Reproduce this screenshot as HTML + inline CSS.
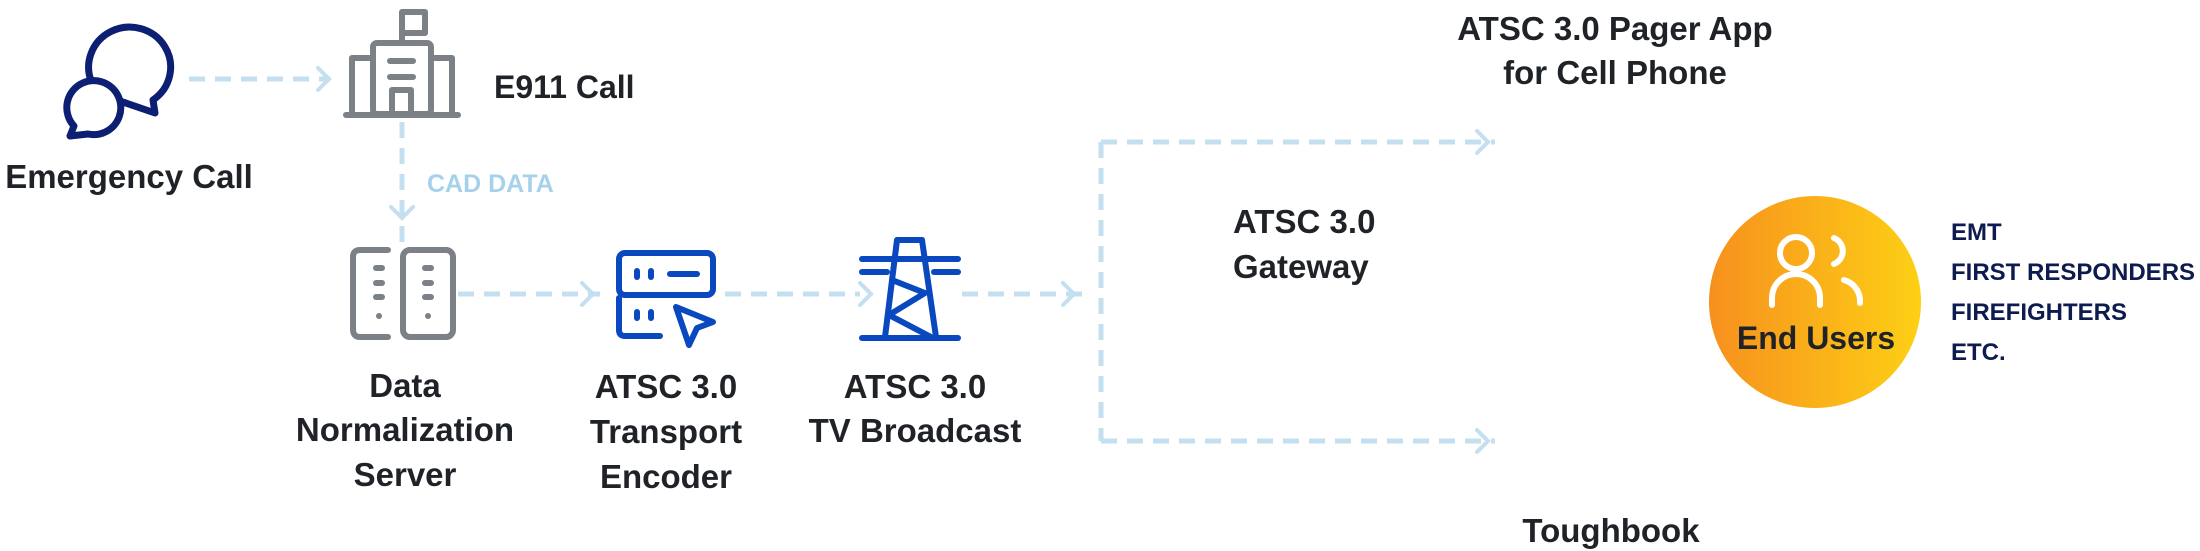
<!DOCTYPE html>
<html><head><meta charset="utf-8"><style>
html,body{margin:0;padding:0;background:#fff}
svg{display:block}
text{font-family:"Liberation Sans",sans-serif;font-weight:bold}
</style></head><body>
<svg width="2200" height="551" viewBox="0 0 2200 551" xmlns="http://www.w3.org/2000/svg">
<defs>
<linearGradient id="g" x1="0" y1="0" x2="1" y2="0">
<stop offset="0" stop-color="#f7901e"/><stop offset="1" stop-color="#fdd015"/>
</linearGradient>
</defs>
<g stroke="#c3dff0" stroke-width="5" fill="none" stroke-dasharray="16 10">
<line x1="189" y1="79" x2="330" y2="79"/>
<line x1="402" y1="122" x2="402" y2="243"/>
<line x1="458" y1="294" x2="600" y2="294"/>
<line x1="725" y1="294" x2="860" y2="294"/>
<line x1="962" y1="294" x2="1085" y2="294"/>
<line x1="1101" y1="142" x2="1101" y2="441"/>
<line x1="1101" y1="142" x2="1495" y2="142"/>
<line x1="1101" y1="441" x2="1495" y2="441"/>
</g>
<g stroke="#c3dff0" stroke-width="4" fill="none" stroke-linecap="round">
<polyline points="318,68 329,79 318,90"/>
<polyline points="391,207 402,218 413,207"/>
<polyline points="582,283 593,294 582,305"/>
<polyline points="860,283 871,294 860,305"/>
<polyline points="1063,283 1074,294 1063,305"/>
<polyline points="1477,131 1488,142 1477,153"/>
<polyline points="1477,430 1488,441 1477,452"/>
</g>
<g stroke="#0c1f73" stroke-width="7" fill="none" stroke-linejoin="round">
<path d="M92,83 A41,40 0 1 1 153,100 L155,113 L120,101"/>
<path d="M74,126 A27,27 0 1 1 88,134 L70,136 Z"/>
</g>
<text x="129" y="188" font-size="33" fill="#1f2328" text-anchor="middle">Emergency Call</text>
<g stroke="#7b8187" stroke-width="6" fill="none" stroke-linecap="round" stroke-linejoin="round">
<path d="M402,42 V12 H425 V33 H402"/>
<rect x="373" y="43" width="58" height="71" rx="4"/>
<path d="M373,58 H352 V114 M431,58 H452 V114"/>
<line x1="346" y1="115" x2="458" y2="115"/>
<line x1="390" y1="61" x2="413" y2="61"/>
<line x1="390" y1="77" x2="413" y2="77"/>
<path d="M392,112 V90 H411 V112"/>
</g>
<text x="494" y="98" font-size="32" fill="#1f2328">E911 Call</text>
<text x="427" y="192" font-size="25" fill="#a5d2ea">CAD DATA</text>
<g stroke="#7b8187" stroke-width="6" fill="none" stroke-linecap="round">
<path d="M388,250 H360 Q353,250 353,257 V329 Q353,337 360,337 H388"/>
<rect x="403" y="250" width="50" height="87" rx="7"/>
<line x1="376" y1="268" x2="382" y2="268"/><line x1="376" y1="283" x2="382" y2="283"/><line x1="376" y1="297" x2="382" y2="297"/><line x1="379" y1="316" x2="379" y2="316"/>
<line x1="425" y1="268" x2="431" y2="268"/><line x1="425" y1="283" x2="431" y2="283"/><line x1="425" y1="297" x2="431" y2="297"/><line x1="428" y1="316" x2="428" y2="316"/>
</g>
<g stroke="#0a48c0" stroke-width="6" fill="none" stroke-linecap="round" stroke-linejoin="round">
<rect x="619" y="253" width="94" height="42" rx="6"/>
<path d="M619,298 V330 Q619,336 625,336 H660"/>
<line x1="637" y1="271" x2="637" y2="277"/><line x1="651" y1="271" x2="651" y2="277"/>
<line x1="670" y1="274" x2="697" y2="274"/>
<line x1="637" y1="312" x2="637" y2="318"/><line x1="651" y1="312" x2="651" y2="318"/>
<path d="M676,307 L713,322 L697,328 L689,345 Z"/>
</g>
<g stroke="#0a48c0" stroke-width="6" fill="none" stroke-linecap="round" stroke-linejoin="round">
<line x1="862" y1="259" x2="958" y2="259"/>
<line x1="862" y1="272" x2="887" y2="272"/><line x1="934" y1="272" x2="958" y2="272"/>
<path d="M885,337 L897,240 H922 L936,337"/>
<path d="M892,280 L925,293 L889,315 L931,337"/>
<line x1="862" y1="338" x2="958" y2="338"/>
</g>
<g font-size="33" fill="#1f2328" text-anchor="middle">
<text x="405" y="397">Data</text><text x="405" y="441">Normalization</text><text x="405" y="486">Server</text>
<text x="666" y="398">ATSC 3.0</text><text x="666" y="443">Transport</text><text x="666" y="488">Encoder</text>
<text x="915" y="398">ATSC 3.0</text><text x="915" y="442">TV Broadcast</text>
<text x="1615" y="40">ATSC 3.0 Pager App</text><text x="1615" y="84">for Cell Phone</text>
<text x="1611" y="542">Toughbook</text>
</g>
<text x="1233" y="233" font-size="33" fill="#1f2328">ATSC 3.0</text>
<text x="1233" y="278" font-size="33" fill="#1f2328">Gateway</text>
<circle cx="1815" cy="302" r="106" fill="url(#g)"/>
<g stroke="#fff" stroke-width="6" fill="none" stroke-linecap="round">
<circle cx="1796" cy="253" r="16"/>
<path d="M1772,305 V298 A24,24 0 0 1 1820,298 V305"/>
<path d="M1834,238 A14,14 0 0 1 1834,264"/>
<path d="M1844,280 A22,22 0 0 1 1860,303"/>
</g>
<text x="1816" y="349" font-size="32" fill="#1f2328" text-anchor="middle">End Users</text>
<g font-size="24" fill="#0d1b4f">
<text x="1951" y="240">EMT</text><text x="1951" y="280">FIRST RESPONDERS</text><text x="1951" y="320">FIREFIGHTERS</text><text x="1951" y="360">ETC.</text>
</g>
</svg>
</body></html>
